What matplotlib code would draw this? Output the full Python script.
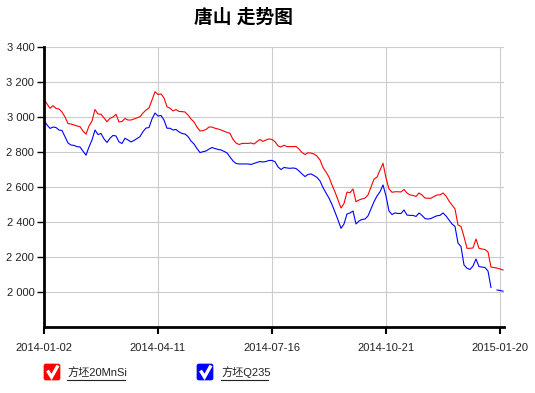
import matplotlib.pyplot as plt
from matplotlib.patches import FancyBboxPatch
from matplotlib.lines import Line2D
from matplotlib.ticker import FuncFormatter
import numpy as np

plt.rcParams['font.family'] = ['Liberation Sans', 'Noto Sans CJK SC', 'DejaVu Sans']

# ===================== data =====================
title = '唐山 走势图'
series_names = ['方坯20MnSi', '方坯Q235']
series_colors = ['#ff0000', '#0000ff']

tick_labels = ['2014-01-02', '2014-04-11', '2014-07-16', '2014-10-21', '2015-01-20']
tick_index = [0, 38, 76, 114, 152]

price_20mnsi = [
    3100, 3073, 3048, 3063, 3047, 3044, 3027, 2998, 2961, 2958,
    2953, 2947, 2943, 2918, 2900, 2947, 2975, 3041, 3015, 3015,
    2993, 2971, 2991, 2998, 3014, 2970, 2973, 2990, 2981, 2981,
    2987, 2993, 3000, 3021, 3038, 3050, 3095, 3143, 3127, 3130,
    3107, 3057, 3048, 3033, 3041, 3030, 3029, 3027, 3010, 2987,
    2970, 2941, 2918, 2921, 2927, 2941, 2941, 2934, 2930, 2924,
    2917, 2910, 2905, 2870, 2850, 2841, 2847, 2848, 2847, 2850,
    2844, 2858, 2870, 2859, 2867, 2873, 2870, 2857, 2833, 2827,
    2837, 2829, 2829, 2829, 2830, 2815, 2795, 2784, 2794, 2792,
    2787, 2775, 2753, 2710, 2684, 2655, 2610, 2570, 2524, 2478,
    2504, 2569, 2566, 2587, 2514, 2524, 2530, 2535, 2553, 2598,
    2643, 2655, 2695, 2734, 2650, 2587, 2568, 2571, 2571, 2570,
    2584, 2564, 2553, 2550, 2544, 2564, 2553, 2535, 2534, 2534,
    2544, 2553, 2553, 2564, 2547, 2518, 2496, 2473, 2381, 2373,
    2314, 2248, 2248, 2250, 2301, 2248, 2244, 2241, 2227, 2141,
    2138, 2135, 2130, 2124,
]

price_q235 = [
    2980, 2953, 2933, 2941, 2938, 2924, 2921, 2886, 2850, 2838,
    2836, 2829, 2827, 2804, 2780, 2827, 2867, 2924, 2898, 2904,
    2873, 2853, 2877, 2893, 2890, 2856, 2847, 2877, 2867, 2856,
    2864, 2875, 2886, 2915, 2935, 2938, 2987, 3021, 3004, 3007,
    2981, 2934, 2934, 2924, 2927, 2913, 2904, 2901, 2887, 2861,
    2844, 2818, 2795, 2800, 2804, 2815, 2824, 2818, 2813, 2810,
    2802, 2793, 2770, 2747, 2733, 2730, 2730, 2730, 2730, 2727,
    2733, 2739, 2744, 2741, 2744, 2750, 2750, 2743, 2713, 2698,
    2710, 2707, 2705, 2707, 2704, 2690, 2673, 2658, 2670, 2673,
    2664, 2653, 2633, 2595, 2564, 2535, 2498, 2455, 2410, 2362,
    2387, 2444, 2450, 2461, 2387, 2404, 2413, 2415, 2433, 2473,
    2514, 2547, 2571, 2610, 2547, 2461, 2441, 2450, 2447, 2447,
    2467, 2438, 2436, 2436, 2430, 2450, 2436, 2418, 2415, 2418,
    2427, 2434, 2436, 2450, 2433, 2410, 2387, 2373, 2278, 2258,
    2153, 2134, 2127, 2147, 2187, 2143, 2141, 2138, 2118, 2024,
    np.nan, 2010, 2007, 2003,
]

y_ticks = [2000, 2200, 2400, 2600, 2800, 3000, 3200, 3400]

# ===================== figure =====================
W, H = 535, 393


def px(x, y):
    # pixel position -> figure fraction
    return x / W, 1 - y / H


fig = plt.figure(figsize=(W / 100, H / 100), dpi=100)
ax = fig.add_axes([44 / W, 1 - 326.7 / H, 460 / W, 280 / H])

for vals, c in zip([price_20mnsi, price_q235], series_colors):
    ax.plot(np.arange(len(vals)), vals, color=c, lw=0.8)

ax.set_xlim(0, 460 / 3)
ax.set_ylim(1800, 3400)
ax.set_xticks(tick_index)
ax.set_xticklabels(tick_labels)
ax.set_yticks(y_ticks)
ax.yaxis.set_major_formatter(FuncFormatter(lambda v, p: f'{v:,.0f}'.replace(',', ' ')))

ax.grid(True, color='#cccccc', lw=0.8)
ax.set_axisbelow(True)
for s in ['top', 'right']:
    ax.spines[s].set_visible(False)
for s in ['left', 'bottom']:
    ax.spines[s].set_linewidth(2)
    ax.spines[s].set_color('black')
ax.tick_params(axis='y', length=5, width=1, pad=2, labelsize=8, labelcolor='#222222')
ax.tick_params(axis='x', length=5, width=1.5, pad=7, labelsize=8, labelcolor='#222222')

fx, fy = px(244, 18)
fig.text(fx, fy, title, ha='center', va='center', fontsize=13.5, fontweight='bold')

# checkbox legend
legend_boxes = [44, 197]
legend_text_x = [67, 221]
legend_text_end = [125, 268]
for bx, tx, te, name, c in zip(legend_boxes, legend_text_x, legend_text_end, series_names, series_colors):
    x0, y0 = px(bx, 380)
    box = FancyBboxPatch((x0, y0), 16 / W, 16 / H, boxstyle='round,pad=0,rounding_size=0.004',
                         transform=fig.transFigure, facecolor=c, edgecolor=c, lw=0.5)
    fig.add_artist(box)
    pts = [px(bx + 3.5, 370.5), px(bx + 7.5, 377), px(bx + 14, 365.5)]
    fig.add_artist(Line2D([p[0] for p in pts], [p[1] for p in pts], transform=fig.transFigure,
                          color='white', lw=2.4, solid_joinstyle='miter', solid_capstyle='butt'))
    fig.text(*px(tx, 372.5), name, ha='left', va='center', fontsize=8, color='#222222')
    ux0, uy = px(tx, 379.5)
    ux1, _ = px(te, 379.5)
    fig.add_artist(Line2D([ux0, ux1], [uy, uy], transform=fig.transFigure, color='#222222', lw=0.8))

fig.savefig('out.png', dpi=100)
